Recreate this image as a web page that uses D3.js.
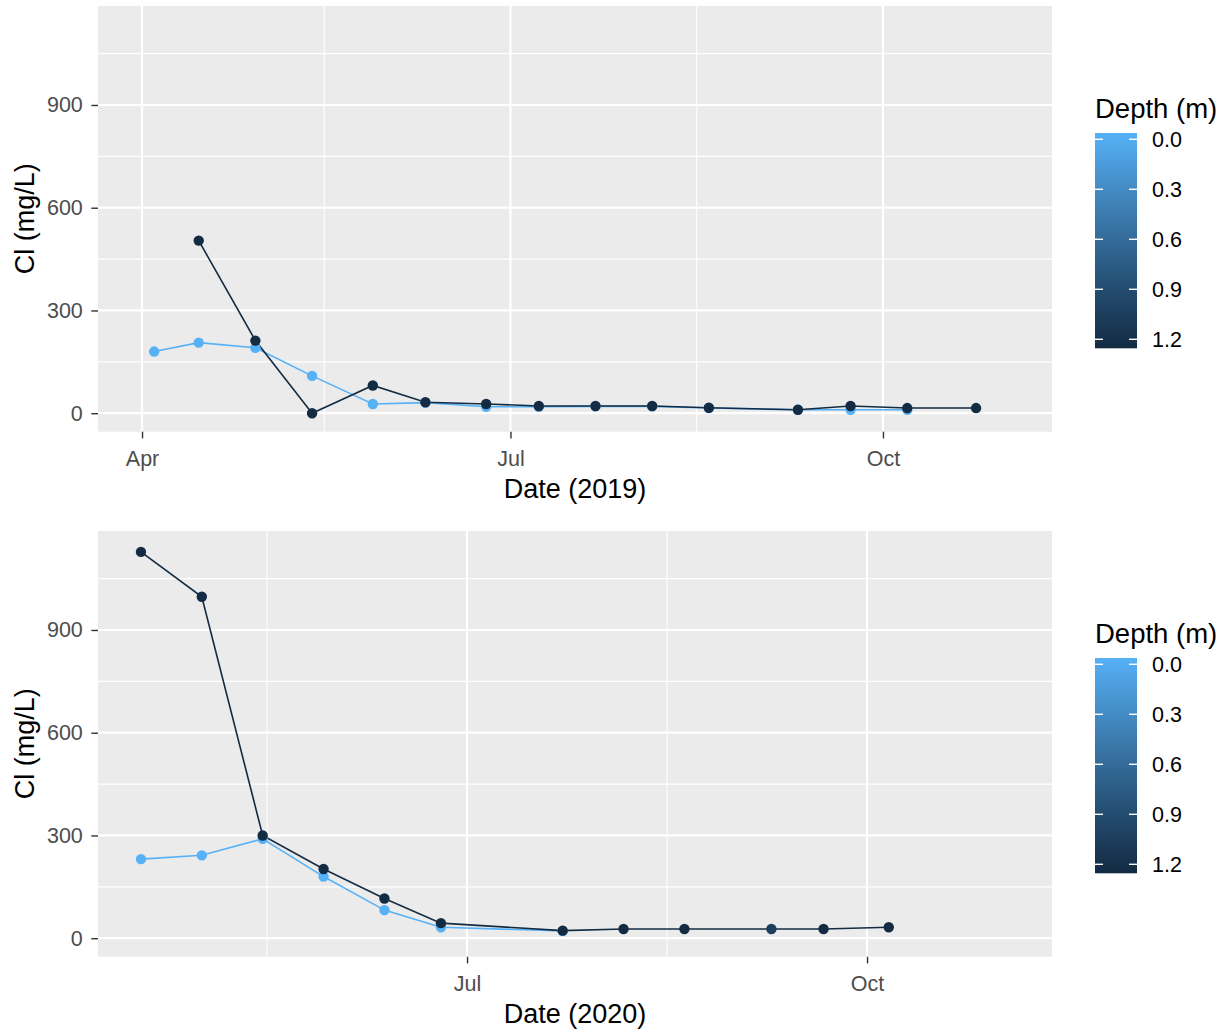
<!DOCTYPE html>
<html>
<head>
<script src="https://d3js.org/d3.v7.min.js"></script>
<title>Cl by depth 2019 / 2020</title>
<style type="text/css">
body { margin:0; background:#fff; }
text { font-family: "Liberation Sans", Arial, sans-serif; }
</style>
</head>
<body>
<svg id="chart"></svg>
<script>
// ---- data ----
var depthTicks = [0, 0.3, 0.6, 0.9, 1.2];
var yTicks = [0, 300, 600, 900];
var yMinor = [150, 450, 750, 1050];

var dates2019Surface = ["2019-04-04","2019-04-15","2019-04-29","2019-05-13","2019-05-28","2019-06-10","2019-06-25","2019-07-08","2019-07-22","2019-08-05","2019-08-19","2019-09-10","2019-09-23","2019-10-07"];
var cl2019Surface    = [180, 206, 191, 109, 27, 31, 19, 19, 20, 20, 15, 10, 10, 10];

var dates2019Deep = ["2019-04-15","2019-04-29","2019-05-13","2019-05-28","2019-06-10","2019-06-25","2019-07-08","2019-07-22","2019-08-05","2019-08-19","2019-09-10","2019-09-23","2019-10-07","2019-10-24"];
var cl2019Deep    = [504, 212, 0, 81, 32, 27, 21, 21, 21, 16, 10, 21, 15, 15];

var dates2020Surface = ["2020-04-17","2020-05-01","2020-05-15","2020-05-29","2020-06-12","2020-06-25","2020-07-23"];
var cl2020Surface    = [231, 242, 290, 180, 82, 32, 21];

var dates2020Deep = ["2020-04-17","2020-05-01","2020-05-15","2020-05-29","2020-06-12","2020-06-25","2020-07-23","2020-08-06","2020-08-20","2020-09-21","2020-10-06"];
var cl2020Deep    = [1128, 997, 300, 202, 116, 44, 22, 27, 27, 27, 32];

var dates2020Mid = ["2020-09-09"];
var cl2020Mid    = [27];

var xMajor2019 = ["2019-04-01","2019-07-01","2019-10-01"];
var xMinor2019 = ["2019-05-16","2019-08-16"];
var xMajor2020 = ["2020-07-01","2020-10-01"];
var xMinor2020 = ["2020-05-16","2020-08-16"];
var xDomain2019 = ["2019-03-21T03:00Z","2019-11-11T18:00Z"];
var xDomain2020 = ["2020-04-07T03:00Z","2020-11-12T13:00Z"];

var width = 1229, height = 1033;
var parse = d3.utcParse("%Y-%m-%d");
var fmt = d3.utcFormat("%b");

var svg = d3.select("#chart")
  .attr("width", width)
  .attr("height", height);

svg.append("rect").attr("width", width).attr("height", height).attr("fill", "#fff");

// ggplot default continuous colour, reversed (shallow = light)
var color = d3.scaleLinear()
  .domain([0, 1.2])
  .range(["#56B1F7", "#132B43"])
  .interpolate(d3.interpolateLab);

var defs = svg.append("defs");
var grad = defs.append("linearGradient")
  .attr("id", "depthGrad")
  .attr("x1", 0).attr("y1", 0).attr("x2", 0).attr("y2", 1);
d3.range(0, 1.0001, 0.1).forEach(function(t) {
  grad.append("stop").attr("offset", t).attr("stop-color", color(t * 1.2));
});

function drawPanel(top, xDomain, majors, minors, title, series) {
  var left = 98, right = 1052, bottom = top + 425.7;

  var x = d3.scaleUtc()
    .domain(xDomain.map(function(d) { return d3.isoParse(d); }))
    .range([left, right]);
  var y = d3.scaleLinear()
    .domain([-54, 1189])
    .range([bottom, top]);

  var g = svg.append("g");

  g.append("rect")
    .attr("x", left).attr("y", top)
    .attr("width", right - left).attr("height", bottom - top)
    .attr("fill", "#EBEBEB");

  // grid
  g.selectAll(".ymin").data(yMinor).enter().append("line")
    .attr("x1", left).attr("x2", right)
    .attr("y1", function(d) { return y(d); }).attr("y2", function(d) { return y(d); })
    .attr("stroke", "#fff").attr("stroke-width", 1.1);
  g.selectAll(".xmin").data(minors).enter().append("line")
    .attr("y1", top).attr("y2", bottom)
    .attr("x1", function(d) { return x(parse(d)); }).attr("x2", function(d) { return x(parse(d)); })
    .attr("stroke", "#fff").attr("stroke-width", 1.1);
  g.selectAll(".ymaj").data(yTicks).enter().append("line")
    .attr("x1", left).attr("x2", right)
    .attr("y1", function(d) { return y(d); }).attr("y2", function(d) { return y(d); })
    .attr("stroke", "#fff").attr("stroke-width", 2.2);
  g.selectAll(".xmaj").data(majors).enter().append("line")
    .attr("y1", top).attr("y2", bottom)
    .attr("x1", function(d) { return x(parse(d)); }).attr("x2", function(d) { return x(parse(d)); })
    .attr("stroke", "#fff").attr("stroke-width", 2.2);

  // axes
  var yAxis = g.append("g")
    .attr("transform", "translate(" + left + ",0)")
    .call(d3.axisLeft(y).tickValues(yTicks).tickSize(6.7).tickPadding(8.5));
  var xAxis = g.append("g")
    .attr("transform", "translate(0," + bottom + ")")
    .call(d3.axisBottom(x).tickValues(majors.map(parse)).tickFormat(fmt).tickSize(6.7).tickPadding(6));
  [yAxis, xAxis].forEach(function(a) {
    a.select(".domain").remove();
    a.selectAll(".tick line").attr("stroke", "#333").attr("stroke-width", 1.4);
    a.selectAll(".tick text")
      .attr("fill", "#4D4D4D")
      .style("font-size", "21.5px")
      .style("font-family", "Liberation Sans, Arial, sans-serif");
  });
  xAxis.selectAll(".tick text").attr("y", 0).attr("dy", 0).attr("transform", "translate(0,34.5)");

  g.append("text")
    .attr("x", (left + right) / 2).attr("y", bottom + 66)
    .attr("text-anchor", "middle")
    .style("font-size", "27px")
    .text(title);
  g.append("text")
    .attr("transform", "translate(34," + ((top + bottom) / 2) + ") rotate(-90)")
    .attr("text-anchor", "middle")
    .style("font-size", "27px")
    .text("Cl (mg/L)");

  // lines then points
  var line = d3.line()
    .x(function(d) { return x(d.date); })
    .y(function(d) { return y(d.cl); });

  series.forEach(function(s) {
    s.pts = s.dates.map(function(d, i) { return { date: parse(d), cl: s.values[i] }; });
    g.append("path")
      .datum(s.pts)
      .attr("d", line)
      .attr("fill", "none")
      .attr("stroke", color(s.depth))
      .attr("stroke-width", 1.6);
  });
  series.forEach(function(s) {
    g.selectAll(null).data(s.pts).enter().append("circle")
      .attr("cx", function(d) { return x(d.date); })
      .attr("cy", function(d) { return y(d.cl); })
      .attr("r", 5.2)
      .attr("fill", color(s.depth));
  });

  // colourbar legend
  var lg = svg.append("g");
  var barTop = top + 127, barBot = top + 342.3;
  var dy = d3.scaleLinear().domain([0, 1.2]).range([top + 133.3, top + 333.3]);
  lg.append("text")
    .attr("x", 1095).attr("y", top + 112)
    .style("font-size", "27.5px")
    .text("Depth (m)");
  lg.append("rect")
    .attr("x", 1095).attr("y", barTop)
    .attr("width", 42).attr("height", barBot - barTop)
    .attr("fill", "url(#depthGrad)");
  depthTicks.forEach(function(t) {
    lg.append("line").attr("x1", 1095).attr("x2", 1103).attr("y1", dy(t)).attr("y2", dy(t))
      .attr("stroke", "#fff").attr("stroke-width", 1.4);
    lg.append("line").attr("x1", 1129).attr("x2", 1137).attr("y1", dy(t)).attr("y2", dy(t))
      .attr("stroke", "#fff").attr("stroke-width", 1.4);
    lg.append("text")
      .attr("x", 1152).attr("y", dy(t)).attr("dy", "0.36em")
      .style("font-size", "21.5px")
      .text(d3.format(".1f")(t));
  });
}

drawPanel(6, xDomain2019, xMajor2019, xMinor2019, "Date (2019)", [
  { depth: 0, dates: dates2019Surface, values: cl2019Surface },
  { depth: 1.2, dates: dates2019Deep, values: cl2019Deep }
]);

drawPanel(531, xDomain2020, xMajor2020, xMinor2020, "Date (2020)", [
  { depth: 0, dates: dates2020Surface, values: cl2020Surface },
  { depth: 1.0, dates: dates2020Mid, values: cl2020Mid },
  { depth: 1.2, dates: dates2020Deep, values: cl2020Deep }
]);
</script>
</body>
</html>
